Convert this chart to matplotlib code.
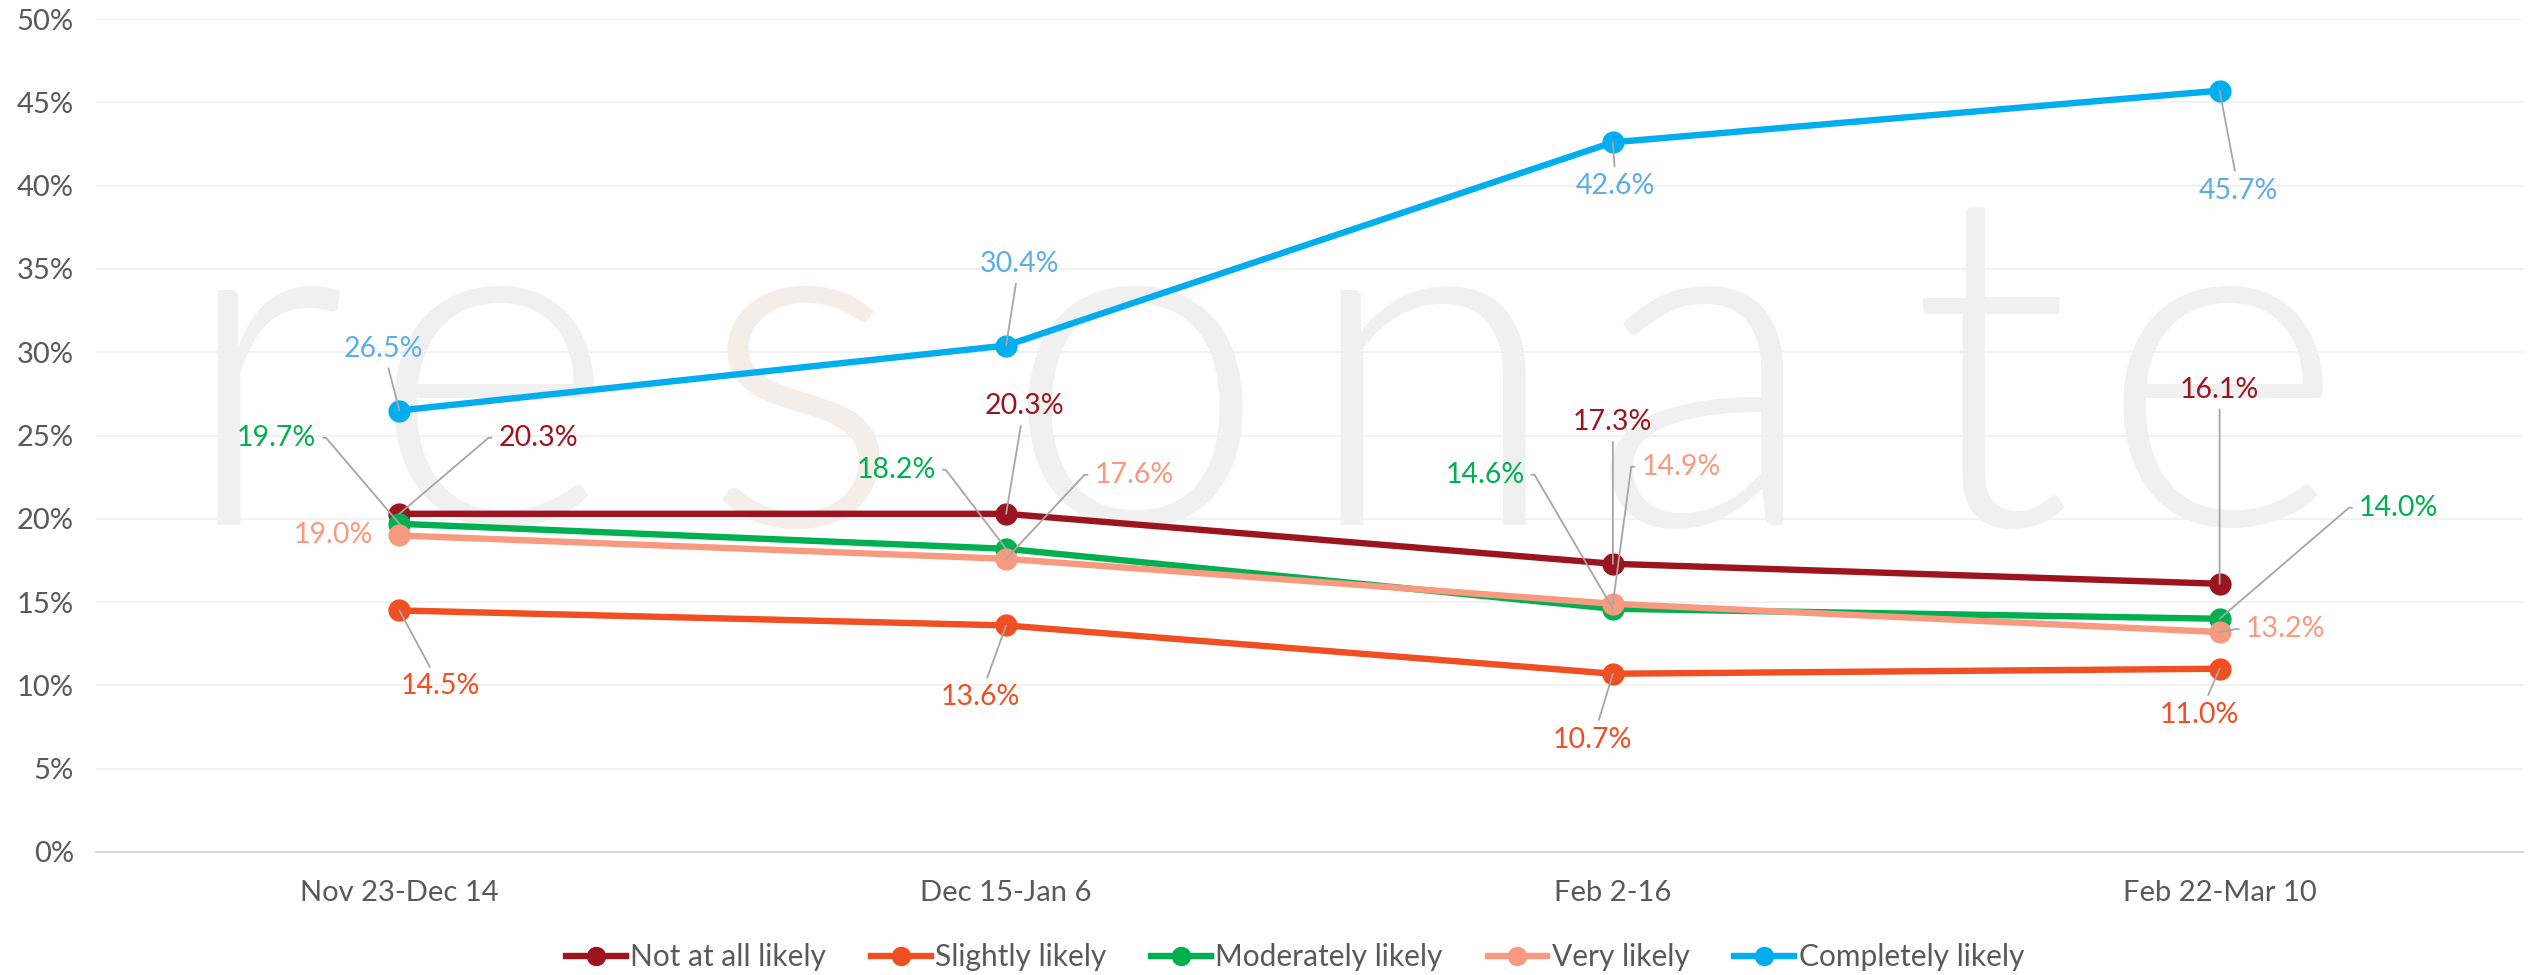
import matplotlib
matplotlib.use("Agg")
import matplotlib.pyplot as plt
from matplotlib.lines import Line2D

# ---------------- data ----------------
periods = ["Nov 23-Dec 14", "Dec 15-Jan 6", "Feb 2-16", "Feb 22-Mar 10"]
series_names = ["Not at all likely", "Slightly likely", "Moderately likely",
                "Very likely", "Completely likely"]
not_at_all = [20.3, 20.3, 17.3, 16.1]
slightly = [14.5, 13.6, 10.7, 11.0]
moderately = [19.7, 18.2, 14.6, 14.0]
very = [19.0, 17.6, 14.9, 13.2]
completely = [26.5, 30.4, 42.6, 45.7]
y_ticks = [0, 5, 10, 15, 20, 25, 30, 35, 40, 45, 50]

# ---------------- style ----------------
line_colors = ["#9C141E", "#F04E23", "#00B050", "#F79A80", "#00AEEF"]
label_colors = ["#9C141E", "#F04E23", "#00B050", "#F79A80", "#5DADE8"]
FONT = ["Lato", "DejaVu Sans"]
plt.rcParams["font.family"] = FONT

# label offsets in pixels (dx, dy) and leader style per point
label_layout = [
    [(139, 76, "R"), (18, 108, "S"), (0, 142, "S"), (0, 194, "S")],
    [(41, -76, "S"), (-26, -72, "S"), (-20, -66, "S"), (-20, -46, "S")],
    [(-123, 86, "L"), (-110, 79, "L"), (-128, 134, "L"), (179, 111, "R")],
    [(-66, 0, None), (128, 84, "R"), (68, 137, "R"), (66, 3, "R")],
    [(-16, 62, "S"), (13, 82, "S"), (3, -44, "S"), (19, -100, "S")],
]

W, H = 2535, 975
fig = plt.figure(figsize=(W / 100, H / 100), dpi=100, facecolor="white")
ax = fig.add_axes([96 / W, 1 - 852 / H, (2523 - 96) / W, (852 - 19) / H])
ax.set_facecolor("none")

# watermark (decorative)
wm_letters = ["r", "e", "s", "o", "n", "a", "t", "e"]
wm_x = [262, 493, 801, 1135, 1431, 1705, 1990, 2222]
for ch, xc in zip(wm_letters, wm_x):
    fig.text(xc / W, 1 - 525 / H, ch, ha="center", va="baseline",
             fontsize=340, color="#F0F0F0" if ch != "s" else "#F5EEE8",
             fontweight=300, family=FONT, zorder=-5)

all_series = [not_at_all, slightly, moderately, very, completely]
xs = list(range(len(periods)))
for name, vals, c in zip(series_names, all_series, line_colors):
    ax.plot(xs, vals, color=c, lw=4.6, marker="o", ms=15, label=name,
            solid_capstyle="round", zorder=3)

for vals, lc, layout in zip(all_series, label_colors, label_layout):
    for x, v, (dx, dy, style) in zip(xs, vals, layout):
        txt = f"{v:.1f}%"
        kw = dict(textcoords="offset pixels", ha="center", va="center",
                  fontsize=20.5, color=lc, zorder=4)
        if style is None:
            ax.annotate(txt, (x, v), xytext=(dx, dy), **kw)
        elif style == "S":
            ax.annotate(txt, (x, v), xytext=(dx, dy),
                        arrowprops=dict(arrowstyle="-", color="#A6A6A6", lw=1.3,
                                        shrinkA=3, shrinkB=0), **kw)
        elif style == "R":
            ax.annotate(txt, (x, v), xytext=(dx, dy),
                        arrowprops=dict(arrowstyle="-", color="#A6A6A6", lw=1.3,
                                        shrinkA=3, shrinkB=0, relpos=(0, 0.5),
                                        connectionstyle="arc,angleA=180,angleB=0,armA=10,armB=0,rad=0"),
                        **kw)
        else:
            ax.annotate(txt, (x, v), xytext=(dx, dy),
                        arrowprops=dict(arrowstyle="-", color="#A6A6A6", lw=1.3,
                                        shrinkA=3, shrinkB=0, relpos=(1, 0.5),
                                        connectionstyle="arc,angleA=0,angleB=0,armA=10,armB=0,rad=0"),
                        **kw)

ax.set_xlim(-0.5, len(periods) - 0.5)
ax.set_ylim(0, 50)
ax.set_xticks(xs)
ax.set_xticklabels(periods)
ax.set_yticks(y_ticks)
ax.set_yticklabels([f"{t}%" for t in y_ticks])
ax.tick_params(axis="both", length=0, labelsize=21, labelcolor="#595959")
ax.tick_params(axis="x", pad=20)
ax.tick_params(axis="y", pad=16)
ax.grid(axis="y", color="#F0F0F0", lw=1.2, zorder=0)
ax.set_axisbelow(True)
for s in ["top", "right", "left"]:
    ax.spines[s].set_visible(False)
ax.spines["bottom"].set_color("#D9D9D9")
ax.spines["bottom"].set_linewidth(1.5)

handles = [Line2D([], [], color=c, lw=4.6, marker="o", ms=13) for c in line_colors]
leg = fig.legend(handles, series_names, loc="center",
                 bbox_to_anchor=(1295 / W, 1 - 957 / H), ncol=5, frameon=False,
                 fontsize=21.5, handlelength=2.0, handletextpad=0.15,
                 columnspacing=1.5, labelcolor="#595959")

fig.savefig("out.png", dpi=100, facecolor="white")
